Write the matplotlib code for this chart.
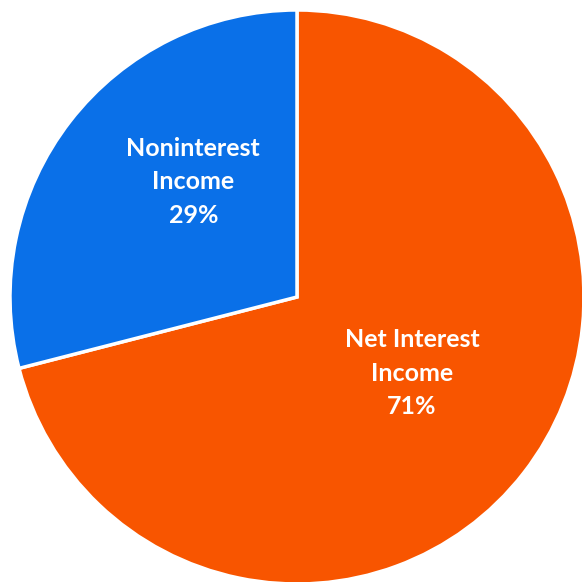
import numpy as np
import matplotlib.pyplot as plt

labels = ["Net Interest\nIncome", "Noninterest\nIncome"]
shares = [71, 29]
colors = ["#F85500", "#0A70E8"]

# label placement (fraction of radius, angle in degrees)
label_pos = [(0.48, -33.5), (0.54, 132)]

fig = plt.figure(figsize=(5.82, 5.82), dpi=100)
ax = fig.add_axes([0, 0, 1, 1])

wedges, texts = ax.pie(shares, colors=colors, startangle=90, counterclock=False,
                       radius=1, wedgeprops=dict(edgecolor="white", linewidth=2.5))

for lab, val, (r, ang) in zip(labels, shares, label_pos):
    a = np.deg2rad(ang)
    ax.text(r * np.cos(a), r * np.sin(a), f"{lab}\n{val}%", ha="center", va="center",
            color="white", fontsize=18, fontweight="bold", family=["Lato", "DejaVu Sans"],
            linespacing=1.55)

R = 287.0
ax.set_xlim(-297 / R, (582 - 297) / R)
ax.set_ylim(-(582 - 297) / R, 297 / R)
ax.set_aspect("equal")
ax.axis("off")

fig.savefig("out.png", dpi=100)
